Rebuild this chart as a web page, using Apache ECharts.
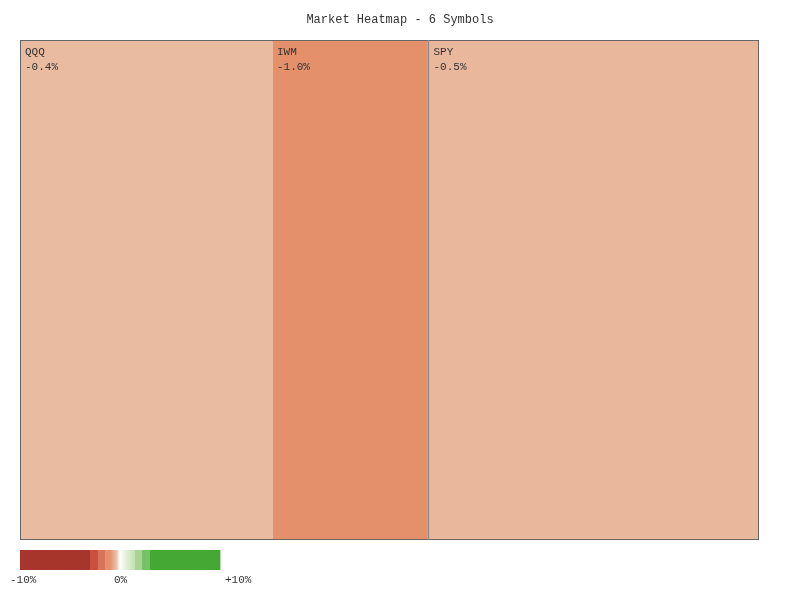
<!DOCTYPE html>
<html><head><meta charset="utf-8">
<script src="https://cdn.jsdelivr.net/npm/echarts@6/dist/echarts.min.js"></script>
<style>html,body{margin:0;padding:0;background:#fff}#c{width:800px;height:600px}</style>
</head><body><div id="c"></div>
<script>
const symbols = ['SPY', 'QQQ', 'IWM'];
const weights = [500, 383, 235];
const changes = [-0.5, -0.4, -1.0];
const groups = [[0], [1, 2]];
const legendTicks = ['-10%', '0%', '+10%'];

const anchors = [[-10,'#a8352c'],[-3,'#a8352c'],[-2.99,'#c9503d'],[-2.2,'#c9503d'],[-2.19,'#d8735a'],[-1.5,'#d8735a'],[-1.49,'#e3906b'],[-1.0,'#e3906b'],[-0.5,'#e9b79b'],[-0.4,'#e9bba1'],[0,'#ffffff'],[0.8,'#dcebcf'],[1.5,'#c2e0b0'],[1.51,'#a8d594'],[2.2,'#a8d594'],[2.21,'#76c266'],[2.99,'#76c266'],[3,'#45a834'],[10,'#45a834']];
function hex(c){return [1,3,5].map(i=>parseInt(c.substr(i,2),16));}
function colorFor(v){
  for(let i=0;i<anchors.length-1;i++){
    const [a,ca]=anchors[i],[b,cb]=anchors[i+1];
    if(v>=a&&v<=b){const t=(v-a)/(b-a||1);const x=hex(ca),y=hex(cb);
      return 'rgb('+x.map((q,k)=>Math.round(q+(y[k]-q)*t)).join(',')+')';}
  }
  return v<0?anchors[0][1]:anchors[anchors.length-1][1];
}
const font='"Liberation Mono", "DejaVu Sans Mono", monospace';
const legendRects=[];
for(let i=0;i<200;i++){const v=-10+(i+0.5)*0.1;
  legendRects.push({type:'rect',left:20+i,top:550,shape:{width:1.4,height:20},style:{fill:colorFor(v)},silent:true});}
const leaf=i=>({name:symbols[i],value:weights[i],change:changes[i],itemStyle:{color:colorFor(changes[i])}});
const data=groups.map((g,k)=>({name:'g'+k,value:g.reduce((s,i)=>s+weights[i],0),children:g.map(leaf)}));
const chart=echarts.init(document.getElementById('c'));
chart.setOption({
  animation:false,
  title:{text:'Market Heatmap - 6 Symbols',left:'center',top:9,textStyle:{fontFamily:font,fontSize:12,fontWeight:'normal',color:'#333'}},
  graphic:legendRects.concat([
    {type:'text',left:10,top:575,style:{text:legendTicks[0],font:'11px '+font,fill:'#333'}},
    {type:'text',left:114,top:575,style:{text:legendTicks[1],font:'11px '+font,fill:'#333'}},
    {type:'text',left:225,top:575,style:{text:legendTicks[2],font:'11px '+font,fill:'#333'}}
  ]),
  series:[{
    type:'treemap',left:20,top:40,right:41,bottom:60,
    roam:false,nodeClick:false,breadcrumb:{show:false},leafDepth:null,
    levels:[{itemStyle:{borderWidth:0,gapWidth:0}},{itemStyle:{borderColor:'#666',borderWidth:1,gapWidth:0}}],
    label:{show:true,position:'insideTopLeft',distance:4,padding:0,fontFamily:font,fontSize:11,color:'#333',lineHeight:15,
      formatter:p=>p.name+'\n'+(p.data.change>0?'+':'')+p.data.change.toFixed(1)+'%'},
    data:data
  }]
});
</script></body></html>
